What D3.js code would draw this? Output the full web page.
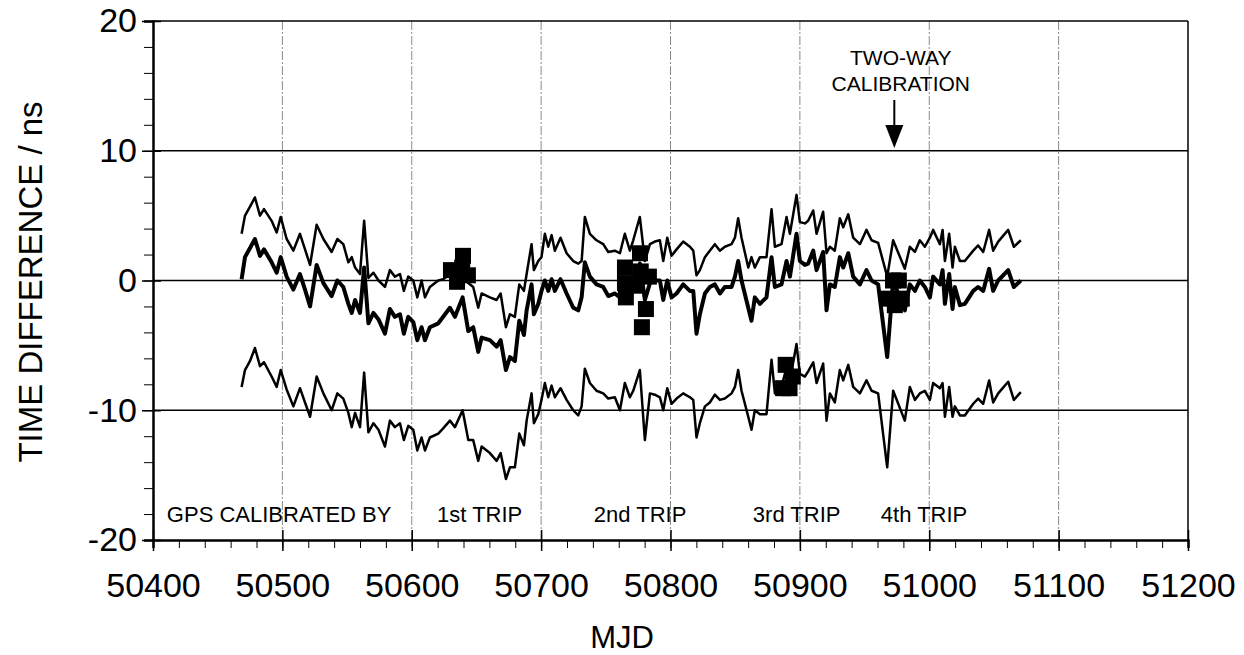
<!DOCTYPE html>
<html><head><meta charset="utf-8">
<script src="https://cdn.jsdelivr.net/npm/d3@7/dist/d3.min.js"></script>
<style>body{margin:0;background:#fff}svg{display:block}text{font-family:"Liberation Sans",Arial,sans-serif;fill:#000}</style>
</head><body><svg id="c" width="1244" height="655"></svg>
<script>
// ---- data ----
const mjd = [50468.5,50471.1,50475,50478.8,50482.7,50485.8,50491.7,50495.6,50498.7,50503.3,50508.5,50513.6,50517.5,50521.4,50526.5,50531.7,50538.1,50542.5,50547.1,50551,50553.6,50556.2,50560,50563.2,50566.5,50570.4,50574.3,
50579.3,50583.1,50587,50590.9,50593.9,50597.3,50601.2,50604.3,50607.6,50610.2,50614,50620.5,50624.3,50629.5,50633.4,50639.3,50643.7,50647.5,50651.4,50654,50660.4,50665.6,50668.7,50672.8,50675.9,50679.7,50683.1,
50686.7,50688.8,50692.6,50694.4,50697.8,50700.3,50702.9,50705.5,50708.1,50710.6,50715,50719.7,50724.8,50728.7,50731.3,50733.8,50737.7,50742.8,50748,50751.9,50757,50760.9,50764.7,50768.6,50771.2,50776.3,50780.2,50784.1,50787.9,50791.8,
50794.4,50797.5,50800.8,50804.7,50809.8,50815,50817.6,50820.1,50822.7,50826.6,50830.4,50834.3,50838.2,50842,50847.2,50849.8,50852.3,50854.9,50860.1,50862.6,50865.2,50869.1,50874.2,50878.1,50880.7,50885.8,50889.7,50892.3,50897.4,
50900,50903.9,50906.4,50910.3,50912.9,50918,50920.6,50923.2,50927,50930.9,50933.5,50937.4,50941.2,50946.4,50951.5,50955.4,50960.5,50967.5,50972.1,50981.1,50985,50988.9,50992.7,50996.6,51000.5,51003,51008.2,
51010.3,51012.1,51015.4,51018,51019.8,51023.7,51027.5,51034,51037.8,51041.7,51046.3,51049.4,51053.3,51061,51065.4,51070.8];
const upper = [3.6,5.0,5.7,6.4,5.0,5.5,4.6,3.7,4.9,3.2,2.3,3.6,2.4,1.2,4.3,3.2,2.2,3.2,2.8,1.4,1.8,1.0,0.5,4.6,0.2,0.6,0.0,
-0.5,0.8,0.3,0.5,-0.8,0.3,0.0,-1.3,0.0,-1.3,-0.5,0.0,0.1,0.5,0.3,1.6,-0.2,-0.5,-2.1,-1.0,-1.3,-1.5,-1.0,-3.6,-2.6,-2.8,-0.3,
-0.8,0.5,2.8,0.8,1.5,1.8,3.6,2.6,3.5,2.3,3.3,2.1,1.5,1.3,1.5,4.9,3.6,3.1,2.8,2.2,2.3,2.1,3.6,2.3,3.1,4.9,1.5,2.8,3.0,3.1,
1.5,3.3,1.9,2.4,3.0,2.6,2.3,0.4,0.8,1.8,2.3,2.8,2.3,2.6,2.8,3.3,4.8,3.3,1.0,1.8,1.0,1.8,1.8,5.5,2.6,2.8,4.9,3.6,6.6,
4.5,4.4,4.6,5.4,3.6,5.3,2.1,2.6,2.3,4.8,4.1,5.1,3.3,2.8,3.9,3.1,2.9,0.3,3.1,0.9,2.6,2.2,3.1,2.6,3.3,3.9,2.8,
3.9,1.5,3.6,1.0,2.6,1.5,1.5,2.3,2.7,2.2,3.9,2.3,3.0,3.9,2.6,3.1];
const middle = [0.1,1.8,2.5,3.2,1.9,2.4,1.4,0.6,1.8,0.3,-0.7,0.5,-0.7,-2.0,1.2,-0.2,-1.2,0.0,-0.5,-1.8,-2.5,-1.5,-2.5,1.0,-3.3,-2.5,-3.0,
-4.1,-2.2,-2.8,-2.6,-4.1,-2.8,-3.2,-4.6,-3.6,-4.6,-3.6,-3.3,-2.8,-2.1,-2.8,-1.3,-3.9,-3.6,-5.5,-4.4,-4.6,-5.1,-4.6,-6.9,-5.9,-6.2,-3.1,
-4.2,-2.3,-0.3,-2.6,-1.8,-0.8,0.0,-0.8,0.1,-0.8,0.1,-1.0,-2.1,-2.3,-1.3,1.4,0.3,-0.3,-0.5,-1.2,-1.0,-1.3,0.2,-0.8,0.0,1.3,-1.5,-0.2,0.0,0.0,
-1.5,0.0,-1.3,-1.0,-0.3,-0.8,-0.8,-4.1,-2.6,-1.0,-0.5,-0.3,-1.0,-0.5,-0.5,0.3,1.5,0.0,-2.1,-3.1,-1.3,-1.8,-1.3,1.8,-0.5,-0.3,1.5,0.3,3.6,
1.5,1.2,1.3,2.3,0.8,2.2,-2.3,-0.3,-0.5,1.8,1.0,2.1,0.3,-0.3,0.8,0.0,-0.3,-5.9,0.0,-2.3,-0.3,-0.8,0.0,-0.5,-1.3,0.3,-0.3,
0.8,-1.8,0.5,-2.2,-0.5,-1.9,-1.8,-0.8,-0.5,-0.8,0.9,-0.8,0.0,0.8,-0.5,0.0];
const lower = [-8.2,-6.9,-6.2,-5.2,-6.6,-6.3,-7.4,-8.2,-6.9,-8.4,-9.7,-8.3,-9.4,-10.5,-7.4,-8.7,-10.0,-8.7,-9.1,-10.2,-11.3,-10.2,-11.3,-7.1,-11.7,-11.0,-11.5,
-12.8,-10.8,-11.3,-11.0,-12.3,-11.2,-11.5,-13.1,-12.1,-13.1,-12.1,-11.8,-11.4,-10.8,-11.3,-10.0,-12.3,-12.3,-13.9,-12.8,-13.3,-13.9,-13.3,-15.3,-14.4,-14.4,-11.8,
-12.7,-10.8,-8.7,-11.0,-10.3,-9.2,-7.9,-9.0,-8.1,-9.0,-8.3,-9.2,-10.0,-10.4,-9.7,-6.8,-7.9,-8.5,-8.7,-9.1,-9.0,-10.0,-7.9,-9.0,-8.5,-6.9,-12.3,-8.7,-8.8,-9.0,
-10.0,-8.3,-9.5,-9.1,-8.7,-9.0,-9.2,-12.1,-11.0,-9.7,-9.4,-8.8,-9.2,-9.1,-8.7,-8.2,-6.9,-8.5,-10.5,-11.5,-10.0,-10.3,-10.3,-6.1,-8.7,-8.2,-6.7,-7.7,-4.9,
-7.2,-7.4,-7.0,-6.3,-7.9,-6.4,-10.8,-8.7,-9.4,-6.9,-7.7,-6.5,-8.2,-8.7,-7.7,-8.5,-8.7,-14.4,-8.5,-10.8,-8.2,-9.2,-8.7,-8.5,-9.2,-7.9,-8.3,
-7.9,-10.5,-8.2,-10.5,-9.7,-10.4,-10.4,-9.5,-9.1,-9.5,-7.7,-9.4,-8.7,-7.8,-9.2,-8.6];
// calibration trip points (squares)
const tripMjd = [50639.6,50630.3,50635,50643.4,50639,
  50764.8,50764.8,50765.5,50776.4,50777,50783.3,50781,50777.9,50772.5,
  50889,50887,50892,50894.5,
  50972,50976.5,50968,50978.8,50973.4];
const tripVal = [1.9,0.8,-0.1,0.4,1.0,
  1.0,-0.2,-1.3,2.1,0.7,0.3,-2.2,-3.6,-0.4,
  -6.5,-8.3,-8.3,-7.4,
  0.0,0.0,-1.4,-1.4,-1.9];
const tripLabels = ["GPS CALIBRATED BY","1st TRIP","2nd TRIP","3rd TRIP","4th TRIP"];
const tripLabelMjd = [50497.5,50652.5,50776.5,50897.5,50996];
const xTicks = [50400,50500,50600,50700,50800,50900,51000,51100,51200];
const yTicks = [-20,-10,0,10,20];
const calibMjd = 50973;
const calibLabelMjd = 50978;

// ---- drawing ----
const svg = d3.select("#c");
const L=153,R=1188,T=21,B=540;
const x = d3.scaleLinear().domain([50400,51200]).range([L,R]);
const y = d3.scaleLinear().domain([-20,20]).range([B,T]);
const fmt = d => String(d);

// vertical grid
svg.append("g").selectAll("line").data(xTicks.slice(1,-1)).join("line")
  .attr("x1",d=>x(d)).attr("x2",d=>x(d)).attr("y1",T).attr("y2",B)
  .attr("stroke","#8a8a8a").attr("stroke-width",1).attr("stroke-dasharray","9,2,2,2");
// horizontal grid
svg.append("g").selectAll("line").data([-10,0,10]).join("line")
  .attr("x1",L).attr("x2",R).attr("y1",d=>y(d)).attr("y2",d=>y(d))
  .attr("stroke","#000").attr("stroke-width",1.3);

// frame
svg.append("line").attr("x1",L).attr("x2",R).attr("y1",T).attr("y2",T).attr("stroke","#000").attr("stroke-width",1.5);
svg.append("line").attr("x1",R).attr("x2",R).attr("y1",T).attr("y2",B).attr("stroke","#000").attr("stroke-width",1.5);

// axes
const xAxis = svg.append("g").attr("transform",`translate(0,${B})`)
  .call(d3.axisBottom(x).tickValues(d3.range(50400,51201,20)).tickSize(8).tickFormat(""));
xAxis.select(".domain").attr("stroke-width",2.5);
const xMaj = svg.append("g").attr("transform",`translate(0,${B})`)
  .call(d3.axisBottom(x).tickValues(xTicks).tickSize(11).tickFormat(fmt).tickPadding(22));
xMaj.select(".domain").remove();
xMaj.selectAll("line").attr("y1",-10).attr("stroke-width",1.5);
xMaj.selectAll("text").style("font-size","34px");

const yAxis = svg.append("g").attr("transform",`translate(${L},0)`)
  .call(d3.axisLeft(y).tickValues(d3.range(-20,21,2)).tickSize(9).tickFormat(""));
yAxis.select(".domain").attr("stroke-width",2.5);
const yMaj = svg.append("g").attr("transform",`translate(${L},0)`)
  .call(d3.axisLeft(y).tickValues(yTicks).tickSize(11).tickPadding(5).tickFormat(fmt));
yMaj.select(".domain").remove();
yMaj.selectAll("line").attr("x1",8).attr("stroke-width",1.5);
yMaj.selectAll("text").style("font-size","34px");

// series
const pts = a => mjd.map((m,i)=>[m,a[i]]);
const line = d3.line().x(d=>x(d[0])).y(d=>y(d[1]));
const series = [[upper,2.5],[middle,4],[lower,2.5]];
svg.append("g").selectAll("path").data(series).join("path")
  .attr("d",d=>line(pts(d[0]))).attr("fill","none").attr("stroke","#000")
  .attr("stroke-width",d=>d[1]).attr("stroke-linejoin","round");

// squares
const s=16;
svg.append("g").selectAll("rect").data(tripMjd.map((m,i)=>[m,tripVal[i]])).join("rect")
  .attr("x",d=>x(d[0])-s/2).attr("y",d=>y(d[1])-s/2).attr("width",s).attr("height",s).attr("fill","#000");

// trip labels
svg.append("g").selectAll("text").data(tripLabels).join("text")
  .attr("x",(d,i)=>x(tripLabelMjd[i])).attr("y",522).attr("text-anchor","middle")
  .style("font-size","22px").text(d=>d);

// calibration annotation
const cx = x(calibMjd), lx = x(calibLabelMjd);
svg.append("text").attr("x",lx).attr("y",65).attr("text-anchor","middle").style("font-size","21px").text("TWO-WAY");
svg.append("text").attr("x",lx).attr("y",91).attr("text-anchor","middle").style("font-size","21px").text("CALIBRATION");
svg.append("line").attr("x1",cx).attr("x2",cx).attr("y1",100).attr("y2",128).attr("stroke","#000").attr("stroke-width",2);
svg.append("path").attr("d",`M${cx-9},125L${cx+9},125L${cx},148Z`).attr("fill","#000");

// axis titles
svg.append("text").attr("x",622).attr("y",648).attr("text-anchor","middle").style("font-size","31px").text("MJD");
svg.append("text").attr("transform","translate(42,282) rotate(-90)").attr("text-anchor","middle").style("font-size","33px").text("TIME DIFFERENCE / ns");
</script></body></html>
